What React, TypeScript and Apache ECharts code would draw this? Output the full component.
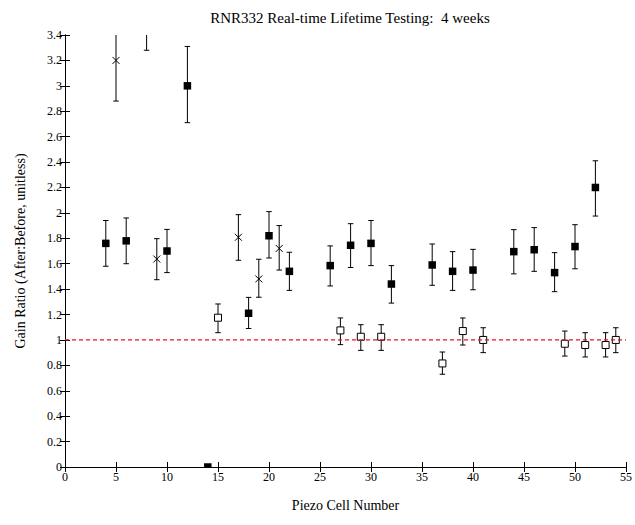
import React, { useEffect, useRef } from "react";
import * as echarts from "echarts";

const titleText = "RNR332 Real-time Lifetime Testing:  4 weeks";
const xName = "Piezo Cell Number";
const yName = "Gain Ratio (After:Before, unitless)";

// Filled squares
const xFilled = [4, 6, 10, 12, 14, 18, 20, 22, 26, 28, 30, 32, 36, 38, 40, 44, 46, 48, 50, 52];
const yFilled = [1.76, 1.78, 1.7, 3.0, 0, 1.21, 1.82, 1.54, 1.585, 1.745, 1.76, 1.44, 1.59, 1.54, 1.55, 1.695, 1.71, 1.53, 1.735, 2.2];
const loFilled = [1.58, 1.6, 1.53, 2.71, 0, 1.09, 1.645, 1.39, 1.425, 1.57, 1.585, 1.29, 1.43, 1.39, 1.395, 1.52, 1.54, 1.38, 1.56, 1.975];
const hiFilled = [1.94, 1.96, 1.87, 3.31, 0, 1.335, 2.01, 1.69, 1.74, 1.915, 1.94, 1.585, 1.755, 1.695, 1.713, 1.868, 1.884, 1.687, 1.907, 2.41];

// Open squares
const xOpen = [15, 27, 29, 31, 37, 39, 41, 49, 51, 53, 54];
const yOpen = [1.175, 1.075, 1.025, 1.025, 0.815, 1.07, 1.0, 0.97, 0.96, 0.96, 1.0];
const loOpen = [1.057, 0.963, 0.918, 0.918, 0.73, 0.96, 0.9, 0.873, 0.866, 0.866, 0.9];
const hiOpen = [1.283, 1.173, 1.12, 1.12, 0.905, 1.173, 1.096, 1.07, 1.057, 1.057, 1.096];

// Crosses
const xCross = [5, 8, 9, 17, 19, 21];
const yCross = [3.2, 3.63, 1.637, 1.808, 1.48, 1.72];
const loCross = [2.88, 3.28, 1.474, 1.627, 1.336, 1.55];
const hiCross = [3.52, 3.98, 1.797, 1.986, 1.635, 1.9];

const refLevel = 1;
const xMin = 0, xMax = 55, xStep = 5;
const yMin = 0, yMax = 3.4, yStep = 0.2;

const FONT = "Liberation Serif";

function rows(xs: number[], ys: number[], lo: number[], hi: number[]) {
  return xs.map((x, i) => [x, ys[i], lo[i], hi[i]]);
}

function makeRender(kind: "filled" | "open" | "cross") {
  return (params: any, api: any) => {
    const x = api.value(0), y = api.value(1), lo = api.value(2), hi = api.value(3);
    const pt = api.coord([x, y]);
    const pl = api.coord([x, lo]);
    const ph = api.coord([x, hi]);
    const cap = 2.75;
    const ls = { stroke: "#000", lineWidth: 1 };
    const children: any[] = [];
    if (hi > lo) {
      children.push({ type: "line", shape: { x1: pt[0], y1: ph[1], x2: pt[0], y2: pl[1] }, style: ls });
      children.push({ type: "line", shape: { x1: pt[0] - cap, y1: ph[1], x2: pt[0] + cap, y2: ph[1] }, style: ls });
      children.push({ type: "line", shape: { x1: pt[0] - cap, y1: pl[1], x2: pt[0] + cap, y2: pl[1] }, style: ls });
    }
    const s = 7.5;
    if (kind === "filled") {
      children.push({ type: "rect", shape: { x: pt[0] - s / 2, y: pt[1] - s / 2, width: s, height: s }, style: { fill: "#000" } });
    } else if (kind === "open") {
      const o = 7;
      children.push({ type: "rect", shape: { x: pt[0] - o / 2, y: pt[1] - o / 2, width: o, height: o }, style: { fill: "#fff", stroke: "#000", lineWidth: 1 } });
    } else {
      const c = 3.5;
      children.push({ type: "line", shape: { x1: pt[0] - c, y1: pt[1] - c, x2: pt[0] + c, y2: pt[1] + c }, style: ls });
      children.push({ type: "line", shape: { x1: pt[0] - c, y1: pt[1] + c, x2: pt[0] + c, y2: pt[1] - c }, style: ls });
    }
    return { type: "group", children };
  };
}

export default function App() {
  const ref = useRef<HTMLDivElement>(null);
  useEffect(() => {
    document.body.style.margin = "0";
    const chart = echarts.init(ref.current!, null, { renderer: "svg" });
    const axisBase = {
      axisLine: { show: true, lineStyle: { color: "#000", width: 1 } },
      axisTick: { show: true, inside: true, length: 5, lineStyle: { color: "#000" } },
      splitLine: { show: false },
    };
    chart.setOption({
      animation: false,
      backgroundColor: "#fff",
      title: {
        text: titleText,
        left: 345,
        textAlign: "center",
        top: 5,
        textStyle: { fontFamily: FONT, fontSize: 15, fontWeight: "normal", color: "#000" },
      },
      grid: { left: 65, right: 9, top: 35, bottom: 58 },
      xAxis: [
        {
          type: "value", min: xMin, max: xMax, interval: xStep, position: "bottom",
          ...axisBase,
          axisLabel: { fontFamily: FONT, fontSize: 12, color: "#000", margin: 4 },
          name: xName, nameLocation: "middle", nameGap: 31,
          nameTextStyle: { fontFamily: FONT, fontSize: 14, color: "#000" },
        },
        {
          type: "value", min: xMin, max: xMax, interval: xStep, position: "top",
          ...axisBase, axisLabel: { show: false },
        },
      ],
      yAxis: [
        {
          type: "value", min: yMin, max: yMax, interval: yStep, position: "left",
          ...axisBase,
          axisLabel: { fontFamily: FONT, fontSize: 12, color: "#000", margin: 3 },
          name: yName, nameLocation: "middle", nameGap: 38,
          nameTextStyle: { fontFamily: FONT, fontSize: 14, color: "#000" },
        },
        {
          type: "value", min: yMin, max: yMax, interval: yStep, position: "right",
          ...axisBase, axisLabel: { show: false },
        },
      ],
      series: [
        {
          type: "line",
          data: [[xMin, refLevel], [xMax, refLevel]],
          symbol: "none",
          lineStyle: { color: "#e8102e", width: 1.2, type: [4, 3] },
        },
        { type: "custom", clip: true, renderItem: makeRender("filled"), encode: { x: 0, y: 1 }, data: rows(xFilled, yFilled, loFilled, hiFilled) },
        { type: "custom", clip: true, renderItem: makeRender("open"), encode: { x: 0, y: 1 }, data: rows(xOpen, yOpen, loOpen, hiOpen) },
        { type: "custom", clip: true, renderItem: makeRender("cross"), encode: { x: 0, y: 1 }, data: rows(xCross, yCross, loCross, hiCross) },
      ],
    });
    return () => chart.dispose();
  }, []);
  return <div ref={ref} style={{ width: 635, height: 525 }} />;
}
